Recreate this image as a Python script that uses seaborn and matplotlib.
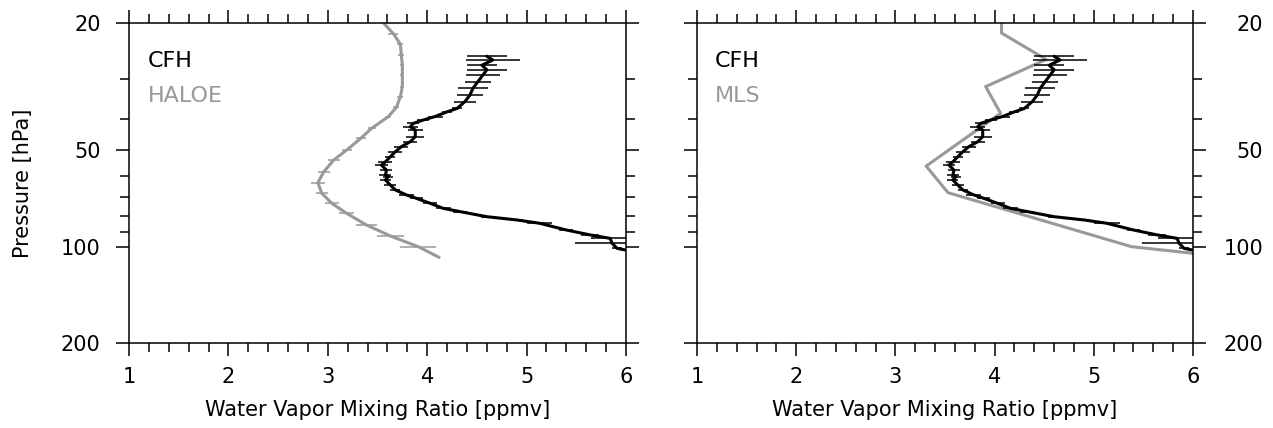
import numpy as np
import pandas as pd
import seaborn as sns
import matplotlib
matplotlib.use("Agg")
import matplotlib.pyplot as plt
from matplotlib.ticker import FixedLocator, NullFormatter, FixedFormatter

# CFH balloon profile (pressure hPa, mixing ratio ppmv, half error bar ppmv)
cfh_p = [25.4, 26.1, 27.1, 28.0, 29.1, 30.5, 32.0, 33.6, 35.2, 37.0, 37.9, 39.2, 40.2, 41.2,
         42.2, 43.2, 45.3, 47.0, 48.7, 50.5, 52.3, 54.3, 55.6, 57.6, 59.7, 60.4, 61.9, 64.2,
         66.5, 68.9, 70.6, 73.2, 75.9, 77.7, 80.6, 82.5, 84.5, 88.7, 91.9, 94.2, 97.6, 101.2, 102.4]
cfh_x = [4.60, 4.66, 4.55, 4.60, 4.56, 4.51, 4.46, 4.43, 4.38, 4.30, 4.20, 4.08, 3.96, 3.86,
         3.83, 3.88, 3.88, 3.83, 3.74, 3.68, 3.63, 3.58, 3.54, 3.59, 3.58, 3.61, 3.58, 3.63,
         3.68, 3.79, 3.89, 4.03, 4.16, 4.33, 4.60, 4.90, 5.13, 5.40, 5.64, 5.84, 5.86, 5.91, 5.99]
cfh_dx = [0.20, 0.27, 0.15, 0.20, 0.17, 0.13, 0.15, 0.13, 0.11, 0.05, 0.05, 0.075, 0.06, 0.06,
          0.075, 0.075, 0.09, 0.07, 0.07, 0.07, 0.05, 0.07, 0.065, 0.06, 0.06, 0.05, 0.055, 0.06,
          0.05, 0.075, 0.065, 0.07, 0.075, 0.07, 0.06, 0.06, 0.13, 0.07, 0.09, 0.19, 0.37, 0.05, 0.0]

# HALOE climatology
haloe_p = [20.0, 21.6, 23.3, 25.2, 27.1, 29.1, 31.6, 34.0, 36.7, 39.2, 42.7, 45.9, 49.9,
           53.6, 58.3, 63.1, 68.1, 73.2, 78.7, 85.6, 92.6, 100.0, 108.0]
haloe_x = [3.56, 3.66, 3.73, 3.74, 3.75, 3.75, 3.75, 3.73, 3.69, 3.61, 3.44, 3.33, 3.19,
           3.06, 2.96, 2.90, 2.94, 3.04, 3.19, 3.39, 3.63, 3.91, 4.12]
haloe_dx = [0.0, 0.05, 0.03, 0.03, 0.02, 0.02, 0.02, 0.03, 0.03, 0.03, 0.04, 0.05, 0.05,
            0.06, 0.06, 0.07, 0.06, 0.07, 0.075, 0.11, 0.14, 0.18, 0.0]

# MLS profile
mls_p = [20.0, 21.5, 26.0, 31.6, 38.3, 56.0, 67.8, 100.0, 104.9]
mls_x = [4.07, 4.07, 4.52, 3.91, 4.06, 3.31, 3.53, 5.38, 6.00]

x_ticks = [1, 2, 3, 4, 5, 6]
y_major = [20, 50, 100, 200]
y_minor = [30, 40, 60, 70, 80, 90]

GRAY = "#999999"

sns.set_style("ticks", rc={"axes.edgecolor": "black", "text.color": "black",
                           "xtick.color": "black", "ytick.color": "black",
                           "axes.labelcolor": "black"})
plt.rcParams["font.family"] = ["DejaVu Sans"]

fig = plt.figure(figsize=(12.73, 4.28), dpi=100)
ax1 = fig.add_axes([129 / 1273, 1 - 343 / 428, 497 / 1273, 320 / 428])
ax2 = fig.add_axes([697 / 1273, 1 - 343 / 428, 496 / 1273, 320 / 428])

cfh = pd.DataFrame({"p": cfh_p, "x": cfh_x, "dx": cfh_dx})
haloe = pd.DataFrame({"p": haloe_p, "x": haloe_x, "dx": haloe_dx})
mls = pd.DataFrame({"p": mls_p, "x": mls_x})


def setup(ax, right_labels=False):
    ax.set_yscale("log")
    ax.set_ylim(200, 20)
    ax.set_xlim(1, 6)
    ax.yaxis.set_major_locator(FixedLocator(y_major))
    ax.yaxis.set_major_formatter(FixedFormatter([str(v) for v in y_major]))
    ax.yaxis.set_minor_locator(FixedLocator(y_minor))
    ax.yaxis.set_minor_formatter(NullFormatter())
    ax.set_xticks(x_ticks)
    ax.set_xticklabels([str(v) for v in x_ticks])
    ax.xaxis.set_minor_locator(FixedLocator(np.arange(1, 6.01, 0.2)))
    ax.tick_params(which="both", direction="out", top=True, bottom=True, left=True, right=True,
                   width=1.1, color="black", labelcolor="black")
    ax.tick_params(which="major", length=9.5, labelsize=15)
    ax.tick_params(which="minor", length=6.5)
    ax.tick_params(axis="x", which="major", pad=8)
    if right_labels:
        ax.tick_params(axis="y", labelleft=False, labelright=True, pad=41)
        for t in ax.get_yticklabels():
            t.set_ha("right")
    else:
        ax.tick_params(axis="y", pad=11)
    for s in ax.spines.values():
        s.set_linewidth(1.1)
        s.set_color("black")
    ax.set_xlabel("Water Vapor Mixing Ratio [ppmv]", fontsize=15, labelpad=9, color="black")
    ax.set_ylabel("")


def draw_cfh(ax):
    ax.errorbar(cfh["x"], cfh["p"], xerr=cfh["dx"], fmt="none", ecolor="black",
                elinewidth=1.1, capsize=0, zorder=3)
    sns.lineplot(data=cfh, x="x", y="p", sort=False, estimator=None, color="black",
                 linewidth=2.2, ax=ax, zorder=4)


# left panel: CFH vs HALOE
ax1.errorbar(haloe["x"], haloe["p"], xerr=haloe["dx"], fmt="none", ecolor=GRAY,
             elinewidth=1.1, capsize=0, zorder=2)
sns.lineplot(data=haloe, x="x", y="p", sort=False, estimator=None, color=GRAY,
             linewidth=2.2, ax=ax1, zorder=2)
draw_cfh(ax1)
setup(ax1)
ax1.set_ylabel("Pressure [hPa]", fontsize=15, labelpad=20, color="black")
ax1.text(0.038, 0.862, "CFH", transform=ax1.transAxes, fontsize=16, color="black")
ax1.text(0.038, 0.753, "HALOE", transform=ax1.transAxes, fontsize=16, color=GRAY)

# right panel: CFH vs MLS
sns.lineplot(data=mls, x="x", y="p", sort=False, estimator=None, color=GRAY,
             linewidth=2.2, ax=ax2, zorder=2)
draw_cfh(ax2)
setup(ax2, right_labels=True)
ax2.text(0.036, 0.862, "CFH", transform=ax2.transAxes, fontsize=16, color="black")
ax2.text(0.036, 0.753, "MLS", transform=ax2.transAxes, fontsize=16, color=GRAY)

fig.savefig("out.png", dpi=100)
